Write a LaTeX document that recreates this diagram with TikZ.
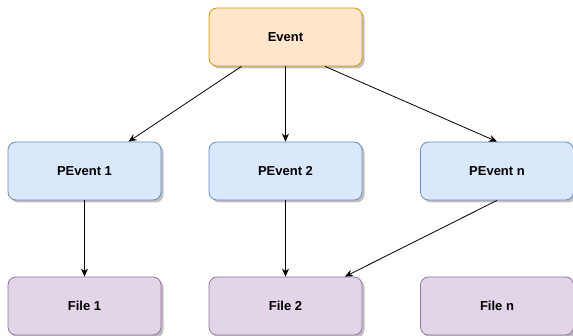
\documentclass[tikz,border=0pt]{standalone}
\usepackage{fontspec}
\setmainfont{Liberation Sans}
\usetikzlibrary{arrows.meta,calc,shadows}
\definecolor{evfill}{HTML}{FFE6CC}
\definecolor{evdraw}{HTML}{D79B00}
\definecolor{pfill}{HTML}{DAE8FC}
\definecolor{pdraw}{HTML}{6C8EBF}
\definecolor{ffill}{HTML}{E1D5E7}
\definecolor{fdraw}{HTML}{9673A6}
\tikzset{
  box/.style={rectangle, rounded corners=8pt, minimum width=153pt, minimum height=58pt,
    inner sep=0pt, line width=0.8pt, font=\bfseries\fontsize{13}{15}\selectfont,
    drop shadow={shadow xshift=2.5pt, shadow yshift=-2.5pt, opacity=0.25, fill=black}},
  evbox/.style={box, fill=evfill, draw=evdraw},
  pbox/.style={box, fill=pfill, draw=pdraw},
  fbox/.style={box, fill=ffill, draw=fdraw},
  conn/.style={line width=0.8pt, draw=black, -{Stealth[length=8pt,width=7pt,inset=2.5pt]}}
}
\begin{document}
\begin{tikzpicture}[x=1pt,y=-1pt]
\useasboundingbox (0,0) rectangle (573,336);
\node[evbox] (ev) at (285.5,37) {Event};
\node[pbox] (p1) at (84.5,171) {PEvent 1};
\node[pbox] (p2) at (285.5,171) {PEvent 2};
\node[pbox] (p3) at (497,171) {PEvent n};
\node[fbox] (f1) at (84.5,306) {File 1};
\node[fbox] (f2) at (285.5,306) {File 2};
\node[fbox] (f3) at (497,306) {File n};
\draw[conn] (ev) -- (p1);
\draw[conn] (ev.south) -- (p2.north);
\draw[conn] ($(ev.south)+(39.5,0)$) -- (p3.north);
\draw[conn] (p1.south) -- (f1.north);
\draw[conn] (p2.south) -- (f2.north);
\draw[conn] (p3.south) -- ($(f2.north)+(59.5,0)$);
\end{tikzpicture}
\end{document}
